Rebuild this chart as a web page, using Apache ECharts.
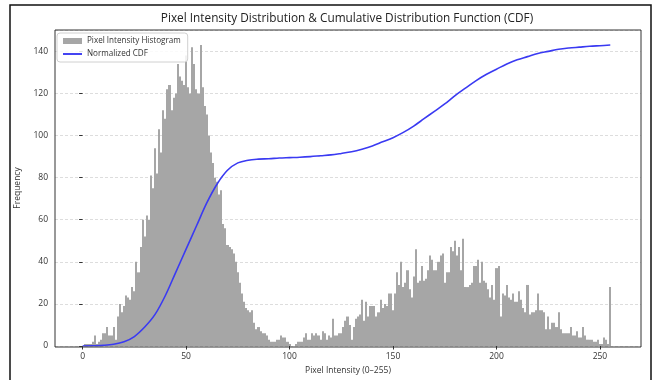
<!DOCTYPE html>
<html>
<head>
<meta charset="utf-8">
<script src="https://cdn.jsdelivr.net/npm/echarts@6/dist/echarts.min.js"></script>
<style>
html,body{margin:0;padding:0;background:#fff;}
#chart{width:658px;height:380px;}
</style>
</head>
<body>
<div id="chart"></div>
<script>
// Histogram counts for pixel intensities 0..255
const histCounts = [
  0,1,1,1,1,2,5,1,2,3, 6,6,9,5,5,9,3,14,20,16,
  19,24,23,22,28,26,40,35,47,60, 52,62,60,81,75,94,82,103,92,112,
  108,122,124,112,118,120,134,128,126,124, 138,123,120,142,134,122,120,143,123,114,
  110,100,92,87,80,78,72,74,58,56, 48,47,46,44,40,35,30,25,21,18,
  17,16,17,11,8,9,7,6,6,5, 3,2,2,2,3,3,5,4,4,2,
  1,0,0,1,2,2,2,4,6,3, 3,6,5,6,5,3,7,6,3,5,
  4,13,5,5,6,6,9,12,14,10, 3,9,13,14,15,22,12,21,14,19,
  19,19,14,16,22,18,20,19,25,25, 17,25,35,29,40,28,30,36,27,23,
  33,46,30,31,38,31,32,36,43,41, 36,36,40,43,44,30,35,35,47,45,
  50,43,47,36,51,28,28,29,30,38, 38,41,30,40,31,30,27,23,29,22,
  37,38,14,25,24,29,23,22,25,21, 21,26,22,18,16,29,15,16,16,17,
  25,17,17,16,8,14,8,11,11,9, 16,8,6,6,6,6,9,5,5,7,
  4,4,9,5,3,3,3,2,2,3, 1,1,4,3,1,28
];
const cdfX = [0,5,10,15,20,25,30,35,40,45,50,55,60,65,70,75,80,85,90,95,100,
  105,110,115,120,125,130,135,140,145,150,155,160,165,170,175,180,185,190,195,
  200,205,210,215,220,225,230,235,240,245,250,255];
const cdfY = [0,0.1,0.3,0.8,2,4.5,9,15,24,35,46,57,68,77,83.5,87,88.3,88.8,89,89.3,89.5,
  89.7,90,90.4,90.8,91.5,92.3,93.5,95,97,99,101.5,104.5,108,111.5,115,119,122.5,126,129,
  131.5,134,136,137.5,139,140,141,141.6,142,142.4,142.7,143];
const xTicks = [0,50,100,150,200,250];

const FONT = 'Open Sans';
const chart = echarts.init(document.getElementById('chart'), null, {renderer:'canvas'});
chart.setOption({
  animation: false,
  backgroundColor: '#fff',
  textStyle: {fontFamily: FONT},
  title: {
    text: 'Pixel Intensity Distribution & Cumulative Distribution Function (CDF)',
    left: 342, top: 8, textAlign: 'center',
    textStyle: {fontFamily: FONT, fontSize: 11.8, fontWeight: 'normal', color: '#222'}
  },
  legend: {
    left: 57, top: 33, orient: 'vertical',
    padding: [4, 7, 4, 6], itemGap: 5,
    itemWidth: 19, itemHeight: 6,
    backgroundColor: 'rgba(255,255,255,0.85)',
    borderColor: '#d0d0d0', borderWidth: 1, borderRadius: 3,
    textStyle: {fontFamily: FONT, fontSize: 8.1, color: '#333'},
    data: [
      {name: 'Pixel Intensity Histogram', icon: 'rect'},
      {name: 'Normalized CDF', icon: 'path://M0,0h20v2h-20z'}
    ]
  },
  grid: {left: 55, right: 17, top: 30, bottom: 33},
  xAxis: {
    type: 'value', min: -13.35, max: 269.85,
    name: 'Pixel Intensity (0–255)', nameLocation: 'middle', nameGap: 20,
    nameTextStyle: {fontFamily: FONT, fontSize: 8.5, color: '#333'},
    axisLine: {show: false},
    axisTick: {show: true, length: 3.5, customValues: xTicks, lineStyle: {color: '#333'}},
    axisLabel: {customValues: xTicks, margin: 6, fontFamily: FONT, fontSize: 8.5, color: '#333'},
    splitLine: {show: false}
  },
  yAxis: {
    type: 'value', min: 0, max: 150.15, interval: 20,
    name: 'Frequency', nameLocation: 'middle', nameGap: 31, nameRotate: 90,
    nameTextStyle: {fontFamily: FONT, fontSize: 8.5, color: '#333'},
    axisLine: {show: false},
    axisTick: {show: true, length: 3.5, lineStyle: {color: '#333'}},
    axisLabel: {margin: 7, fontFamily: FONT, fontSize: 8.5, color: '#333', showMaxLabel: false},
    splitLine: {show: true, lineStyle: {color: '#d4d4d4', type: [3, 2], width: 0.8}}
  },
  graphic: [
    {type: 'rect', shape: {x: 55, y: 30, width: 586, height: 317}, silent: true, z: 100,
     style: {fill: null, stroke: '#333', lineWidth: 1}},
    {type: 'rect', shape: {x: 10, y: 5, width: 641, height: 400}, silent: true, z: 100,
     style: {fill: null, stroke: '#111', lineWidth: 1.5}}
  ],
  series: [
    {
      name: 'Pixel Intensity Histogram', type: 'custom',
      data: histCounts.map((v, i) => [i, v]),
      encode: {x: 0, y: 1},
      itemStyle: {color: '#a6a6a6'},
      renderItem: function (params, api) {
        const i = api.value(0), v = api.value(1);
        const p0 = api.coord([i - 0.5, 0]);
        const p1 = api.coord([i + 0.5, v]);
        const xl = Math.round(p0[0]), xr = Math.round(p1[0]);
        return {
          type: 'rect',
          shape: {x: xl, y: p1[1], width: xr - xl, height: p0[1] - p1[1]},
          style: {fill: '#a6a6a6', stroke: null}
        };
      },
      z: 2
    },
    {
      name: 'Normalized CDF', type: 'line',
      data: cdfX.map((x, i) => [x, cdfY[i]]),
      smooth: 0.35,
      symbol: 'none', showSymbol: false,
      lineStyle: {color: '#3a3af2', width: 1.6},
      itemStyle: {color: '#3a3af2'},
      z: 3
    }
  ]
});
</script>
</body>
</html>
